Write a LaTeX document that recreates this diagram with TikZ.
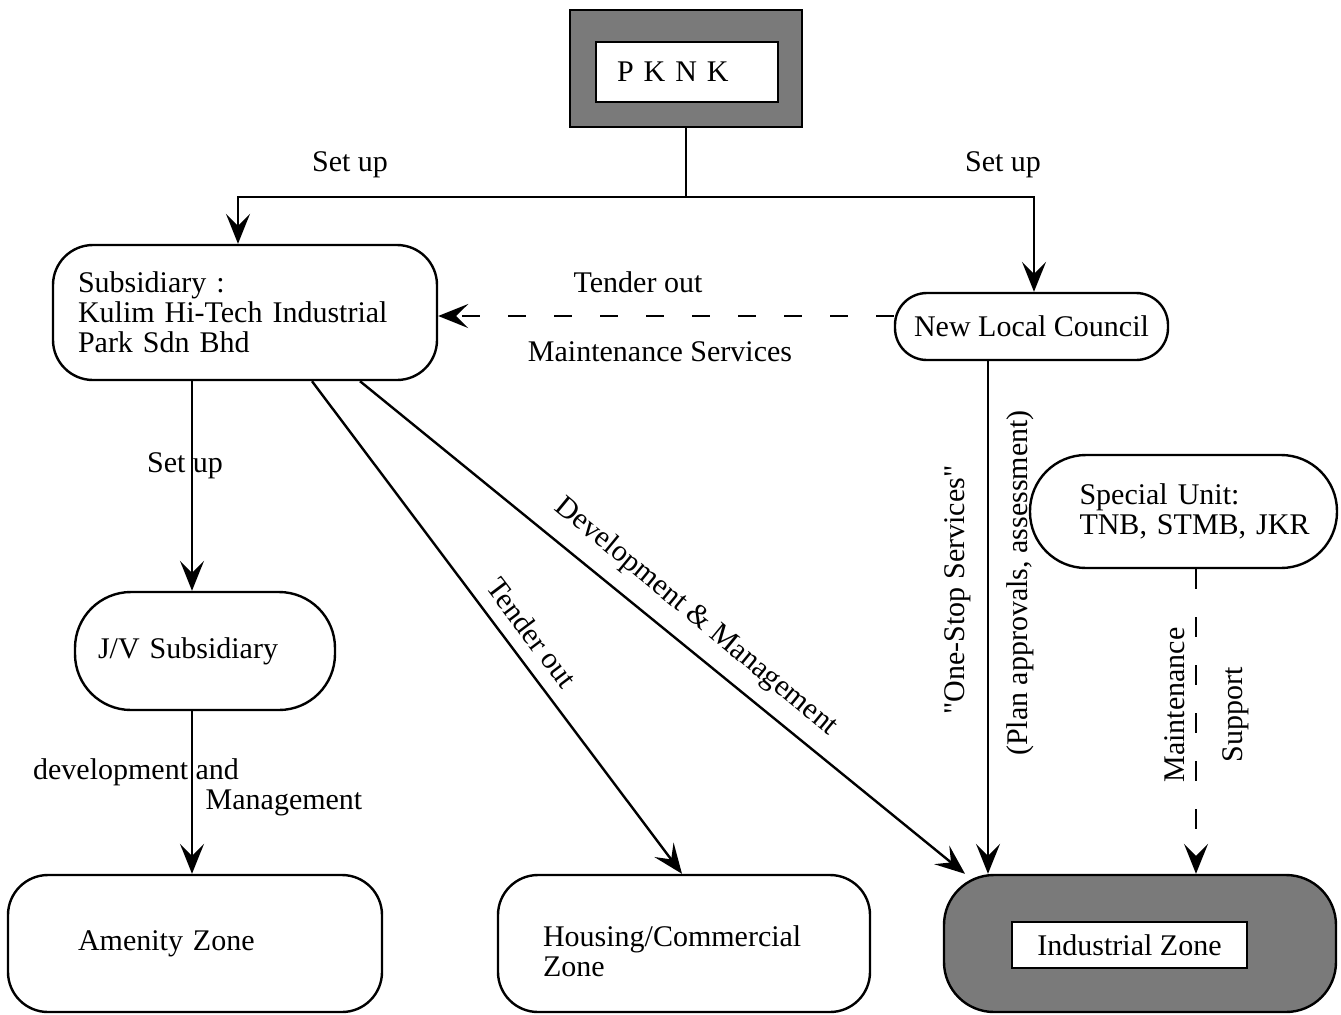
\documentclass[tikz,border=0pt]{standalone}
\usepackage{fontspec}
\setmainfont{Liberation Serif}[Ligatures=TeXOff]
\usetikzlibrary{arrows.meta}
\begin{document}
\begin{tikzpicture}[x=0.5pt,y=-0.5pt, line width=1.2pt,
  font=\fontsize{15}{15}\selectfont,
  every node/.style={inner sep=0pt},
  box/.style={draw, line width=1.2pt, rounded corners=#1},
  arr/.style={-{Stealth[length=15pt,width=12pt,inset=6pt]}},
  dsh/.style={dash pattern=on 9pt off 14pt},
  lbl/.style={font=\fontsize{15}{15}\selectfont}]
\useasboundingbox (0,0) rectangle (1341,1014);

% PKNK
\node[draw, fill=black!52, minimum width=116pt, minimum height=58.5pt] (pknkout) at (686,68.5) {};
\node[draw, fill=white, line width=1pt, minimum height=30pt, text width=70pt, inner xsep=10.5pt, align=left] (pknk) at (687,72) {P K N K};

% main nodes
\node[box=20pt, minimum height=67.5pt, text width=167pt, inner xsep=12.5pt, align=left] (sub) at (245,312.5) {Subsidiary :\\Kulim Hi-Tech Industrial\\Park Sdn Bhd};
\node[box=16pt, minimum width=136.5pt, minimum height=33.5pt] (nlc) at (1031.5,326.5) {New Local Council};
\node[box=28pt, minimum height=56.5pt, text width=134pt, inner xsep=9.75pt, align=left] (spec) at (1183.5,511.5) {\hspace*{15pt}Special Unit:\\\hspace*{15pt}TNB, STMB, JKR};
\node[box=28pt, minimum height=59pt, text width=107pt, inner xsep=11.5pt, align=left] (jv) at (205,651) {J/V Subsidiary};
\node[box=20pt, minimum height=68.5pt, text width=117pt, inner xsep=35pt, align=left] (amen) at (195,943.5) {Amenity Zone\\[4pt]};
\node[box=20pt, minimum height=68.5pt, text width=141pt, inner xsep=22.5pt, align=left] (hous) at (684,943.5) {\vphantom{X}\\[-7pt]Housing/Commercial\\Zone};
\node[box=25pt, fill=black!52, minimum width=196pt, minimum height=68.5pt] (ind) at (1140,943.5) {};
\node[draw, fill=white, line width=1pt, minimum width=117.5pt, minimum height=23pt] (indin) at (1129.5,945) {Industrial Zone};

% helper coordinates
\coordinate (split) at (686,197);
\coordinate (cSub) at (238,0);
\coordinate (cNlc) at (1034,0);
\coordinate (cJv) at (192,0);
\coordinate (cHa) at (312,0);
\coordinate (cHb) at (682,0);
\coordinate (cIa) at (360,0);
\coordinate (cIb) at (965,0);
\coordinate (cOs) at (988,0);
\coordinate (cSp) at (1196,0);
\coordinate (cTd) at (0,316);

% connectors
\draw (pknkout.south) -- (split);
\draw[arr] (split) -| (sub.north -| cSub);
\draw[arr] (split) -| (nlc.north -| cNlc);
\draw[arr, dsh] (nlc.west |- cTd) -- (sub.east |- cTd);
\draw[arr] (sub.south -| cJv) -- (jv.north -| cJv);
\draw[arr] (jv.south -| cJv) -- (amen.north -| cJv);
\draw[arr] (sub.south -| cHa) -- (hous.north -| cHb);
\draw[arr] (sub.south -| cIa) -- (ind.north -| cIb);
\draw[arr] (nlc.south -| cOs) -- (ind.north -| cOs);
\draw[arr, dash pattern=on 10pt off 14pt] (spec.south -| cSp) -- (ind.north -| cSp);

% labels
\node[lbl] (l1) at (350,165) {Set up};
\node[lbl] (l2) at (1003,165) {Set up};
\node[lbl] (l3) at (638,282) {Tender out};
\node[lbl] (l4) at (660,352) {Maintenance Services};
\node[lbl] (l5) at (185,466) {Set up};
\node[lbl] (l6) at (136,772) {development and};
\node[lbl] (l7) at (284,803) {Management};
\node[lbl, rotate=-53] (l8) at (532,633) {Tender out};
\node[lbl, rotate=-39.5] (l9) at (696,617) {Development \& Management};
\node[lbl, rotate=90] (l10) at (958,590) {"One-Stop Services"};
\node[lbl, rotate=90] (l11) at (1020,583) {(Plan approvals, assessment)};
\node[lbl, rotate=90] (l12) at (1175,705) {Maintenance};
\node[lbl, rotate=90] (l13) at (1236,715) {Support};
\end{tikzpicture}
\end{document}
